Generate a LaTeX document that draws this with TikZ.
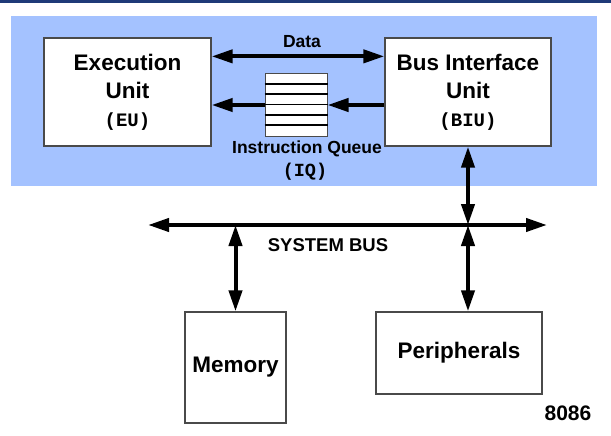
\documentclass[tikz,border=0pt]{standalone}
\usepackage{fontspec}
\setmainfont{Liberation Sans}
\setmonofont{Liberation Mono}
\usepackage{tikz}
\usetikzlibrary{arrows.meta,positioning}
\definecolor{panelblue}{HTML}{A4C2FF}
\definecolor{navy}{HTML}{1F3A78}
\definecolor{boxgray}{HTML}{4A4A4A}

\begin{document}
\begin{tikzpicture}[x=1pt,y=-1pt,
		unitbox/.style={draw=boxgray,line width=1.3pt,fill=white,inner sep=0pt,align=center,
			font=\bfseries\fontsize{22.5}{28}\selectfont},
		lbl/.style={font=\bfseries\fontsize{17.5}{20}\selectfont,inner sep=0pt},
		mono/.style={font=\ttfamily\bfseries\fontsize{18.5}{20}\selectfont,inner sep=0pt},
		onew/.style={line width=4pt,-{Triangle[length=21pt,width=13pt]}},
		twow/.style={line width=4pt,{Triangle[length=21pt,width=13pt]}-{Triangle[length=21pt,width=13pt]}}]
			\useasboundingbox (0,0) rectangle (611,436);
			
			% frame
			\fill[navy] (0,0) rectangle (611,3);
			\fill[panelblue] (11,16) rectangle (597,186);
			
			% CPU units
			\node[unitbox,minimum width=167pt,minimum height=108pt] (eu) at (127.5,92)
			{Execution\\Unit\\{\ttfamily\fontsize{19}{28}\selectfont(EU)}};
			\node[unitbox,minimum width=166pt,minimum height=108pt] (biu) at (468,92)
			{Bus Interface\\Unit\\{\ttfamily\fontsize{19}{28}\selectfont(BIU)}};
			
			% queue
			\node[draw=boxgray,line width=1pt,fill=white,minimum width=62pt,minimum height=62pt,inner sep=0pt] (queue) at (296,105) {};
			\foreach \k in {1,...,5}
			\draw[line width=1.8pt] ([yshift=-\k*62/6 pt]queue.north west) -- ([yshift=-\k*62/6 pt]queue.north east);
			\node[lbl,below=4pt of queue,xshift=11pt] (iq) {Instruction Queue};
			\node[mono,below=6pt of iq,xshift=-2pt] (iqshort) {(IQ)};
			
			\draw[twow] ([yshift=-19pt]eu.north east) -- ([yshift=-19pt]biu.north west)
			node[lbl,midway,above=7pt,xshift=4pt] (data) {Data};
			\draw[onew] (biu.west |- queue.east) -- (queue.east);
			\draw[onew] (queue.west) -- (eu.east |- queue.west);
			
			% system bus
			\coordinate (busL) at (148,225);
			\coordinate (busR) at (547,225);
			\draw[twow] (busL) -- (busR);
			\node[lbl,font=\bfseries\fontsize{18.5}{20}\selectfont] (bus) at (328,245) {SYSTEM BUS};
			
			% memory and I/O
			\node[unitbox,minimum width=101pt,minimum height=111pt] (mem) at (235.5,367.5) {Memory};
			\node[unitbox,minimum width=166pt,minimum height=82pt] (per) at (459,353) {Peripherals};
			
			\draw[twow] (biu.south) -- (biu.south |- busL);
			\draw[twow] (mem.north |- busL) -- (mem.north);
			\draw[twow] (biu.south |- busL) -- (biu.south |- per.north);
			
			\node[font=\bfseries\fontsize{21}{24}\selectfont,inner sep=0pt] (chip) at (568,413) {8086};
		\end{tikzpicture}
\end{document}
